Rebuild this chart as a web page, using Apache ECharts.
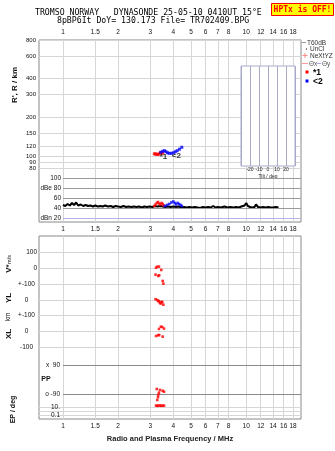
<!DOCTYPE html>
<html><head><meta charset="utf-8">
<script src="https://cdn.jsdelivr.net/npm/echarts@6/dist/echarts.min.js"></script>
<style>html,body{margin:0;padding:0;background:#fff}#c{width:335px;height:451px}</style>
</head><body><div id="c"></div>
<script>
// ---------------- data ----------------
const freqTicks = [1, 1.5, 2, 3, 4, 5, 6, 7, 8, 10, 12, 14, 16, 18];
const rangeTicks = [80, 90, 100, 120, 150, 200, 300, 400, 600, 800];
const dbTicks = [100, 80, 60, 40, 20];
const dbTickLabels = ['100', 'dBe 80', '60', '40', 'dBn 20'];
const tiltTicks = [-20, -10, 0, 10, 20];

// echo 1 (red, *1): virtual range (km) vs frequency (MHz)
const o1Freq  = [3.15, 3.2, 3.25, 3.3, 3.35, 3.4, 3.45, 3.5];
const o1Range = [104, 104, 103, 103, 104, 106, 106, 105];
// echo 2 (blue, <2)
const x2Freq  = [3.42, 3.5, 3.58, 3.65, 3.72, 3.8, 3.9, 4.0, 4.1, 4.2, 4.32, 4.45];
const x2Range = [107, 109, 110, 108, 106, 105, 105, 106, 108, 110, 113, 117];

// noise / amplitude panel (dB)
const noiseFreq = [1.00,1.03,1.06,1.09,1.12,1.15,1.18,1.21,1.25,1.29,1.33,1.37,1.41,1.46,1.5,1.55,1.6,1.65,1.7,1.76,1.82,1.88,1.94,2.0,2.07,2.14,2.21,2.28,2.36,2.44,2.52,2.6,2.69,2.78,2.87,2.97,3.07,3.17,3.28,3.39,3.5,3.62,3.74,3.87,4.0,4.14,4.28,4.43,4.58,4.74,4.9,5.07,5.24,5.42,5.6,5.8,6.0,6.2,6.4,6.6,6.8,7.0,7.3,7.6,7.9,8.2,8.5,8.8,9.1,9.4,9.6,9.8,10.0,10.2,10.5,10.8,11.1,11.3,11.6,12.0,12.4,12.8,13.2,13.6,14.0,14.5,15.0];
const noiseDb   = [46,44,48,45,50,46,51,45,47,44,46,44,45,43,45,43,44,43,45,43,44,42,44,43,42,44,42,43,42,43,42,43,41,43,42,43,42,44,43,44,43,42,43,42,43,42,43,41,42,41,42,41,42,41,40,42,41,42,41,44,41,42,41,43,41,42,41,42,41,43,47,45,50,44,42,41,42,47,42,41,42,41,42,41,41,42,41];
const o1AmpFreq = [3.15, 3.2, 3.25, 3.3, 3.35, 3.4, 3.45, 3.5, 3.55];
const o1AmpDb   = [44, 47, 50, 52, 49, 47, 50, 48, 45];
const x2AmpFreq = [3.6, 3.7, 3.8, 3.9, 4.0, 4.07, 4.14, 4.22, 4.3, 4.38, 4.45];
const x2AmpDb   = [44, 46, 48, 51, 53, 50, 47, 50, 48, 46, 44];

// lower panel: V* (m/s), YL (km), XL (km), PP (deg), EP (deg)
const vFreq  = [3.22, 3.27, 3.34, 3.44, 3.20, 3.35, 3.31, 3.50, 3.53];
const vStar  = [4, 11, 11, -10, -40, -44, -48, -80, -97];
const ylFreq = [3.20, 3.27, 3.34, 3.38, 3.46, 3.41, 3.53, 3.48, 3.31];
const ylVal  = [4, -1, -9, -18, -13, -24, -31, -15, -7];
const xlFreq = [3.34, 3.42, 3.48, 3.56, 3.22, 3.31, 3.35, 3.50];
const xlVal  = [15, 29, 27, 17, -30, -25, -24, -34];
const ppFreq = [3.25, 3.38, 3.50, 3.56, 3.34, 3.31, 3.30, 3.27];
const ppVal  = [-59, -65, -70, -76, -82, -96, -110, -127];
const epFreq = [3.22, 3.27, 3.32, 3.38, 3.44, 3.50, 3.56];
const epVal  = [22, 20, 21, 23, 20, 21, 22];

// ---------------- helpers ----------------
const L = Math.log10;
const FONT = '"Liberation Sans", Arial, sans-serif';
const MONO = '"DejaVu Sans Mono", monospace';
const X_MIN = L(0.74), X_MAX = L(19.9);
const Y0_MAX = L(800), Y0_MIN = Y0_MAX - 132 / 128.5;
const U_TOP = 606, U_BOT = -558;
const vU = v => 400 + v, ylU = v => 200 + v, xlU = v => v;
const ppU = p => -306.65 + p * 1.025;
const epU = e => -507.05 + 25.45 * L(e);

const fmtFreq = v => String(Math.round(Math.pow(10, v) * 10) / 10);
const pick = (pairs) => (v) => { for (const p of pairs) if (Math.abs(p[0] - v) < 0.5) return p[1]; return ''; };
const freqVals = freqTicks.map(L);
const GRID_C = '#d6d6d6';

function xAx(gi, pos, showLabel) {
  return {
    type: 'value', gridIndex: gi, position: pos, min: X_MIN, max: X_MAX,
    axisLine: { show: false },
    axisTick: { show: false, customValues: freqVals },
    axisLabel: { show: showLabel, customValues: freqVals, formatter: fmtFreq, hideOverlap: false,
      fontSize: 6.5, color: '#111', margin: 4, fontFamily: FONT },
    splitLine: { show: true, lineStyle: { color: GRID_C, width: 1 } }
  };
}
const hidden = (gi, extra) => Object.assign({ type: 'value', gridIndex: gi, show: false, min: 0, max: 1,
  splitLine: { show: false } }, extra || {});

const ppLabels = [[ppU(90), 'x  90'], [ppU(-90), 'o -90'], [epU(10), '10.'], [epU(0.1), '0.1']];
const yxLabels = [[300, '+-100'], [200, '0'], [100, '+-100'], [0, '0'], [-100, '-100']];
const vLabels = [[500, '100'], [400, '0']];
const bottomGridVals = [500, 400, 300, 200, 100, 0, -100, epU(10), epU(1), epU(0.1)];

const lbl = (extra) => Object.assign({ fontSize: 6.5, color: '#111', fontFamily: FONT, hideOverlap: false }, extra);

const hseg = (v, color) => [{ coord: [L(1), v], lineStyle: { color: color, width: 1, type: 'solid' } }, { coord: [X_MAX, v] }];

const bottomPts = []
  .concat(vFreq.map((f, i) => [L(f), vU(vStar[i])]))
  .concat(ylFreq.map((f, i) => [L(f), ylU(ylVal[i])]))
  .concat(xlFreq.map((f, i) => [L(f), xlU(xlVal[i])]))
  .concat(ppFreq.map((f, i) => [L(f), ppU(ppVal[i])]))
  .concat(epFreq.map((f, i) => [L(f), epU(epVal[i])]));

const o1Data = o1Freq.map((f, i) => {
  const d = { value: [L(f), L(o1Range[i])] };
  if (i === 6) d.label = { show: true, formatter: '*1', position: 'inside', offset: [2, 4],
    color: '#000', fontSize: 8, fontWeight: 'bold', fontFamily: FONT };
  return d;
});
const x2Data = x2Freq.map((f, i) => {
  const d = { value: [L(f), L(x2Range[i])] };
  if (i === 6) d.label = { show: true, formatter: '<2', position: 'inside', offset: [5, 2],
    color: '#000', fontSize: 8, fontWeight: 'bold', fontFamily: FONT };
  return d;
});

const leftY = (extra) => Object.assign({ type: 'value', gridIndex: 2, position: 'left', min: U_BOT, max: U_TOP,
  axisLine: { show: false }, splitLine: { show: false } }, extra);

const option = {
  animation: false,
  backgroundColor: '#fff',
  grid: [
    { left: 39, top: 40, width: 262, height: 132 },
    { left: 39, top: 172, width: 262, height: 50 },
    { left: 39, top: 236, width: 262, height: 183, show: true, borderColor: '#888', borderWidth: 1, backgroundColor: 'transparent' },
    { left: 39, top: 40, width: 262, height: 182, show: true, borderColor: '#888', borderWidth: 1, backgroundColor: 'transparent' },
    { left: 241, top: 66, width: 54, height: 100, show: true, borderColor: '#a8a8c8', borderWidth: 1, backgroundColor: '#fff', z: 3 }
  ],
  xAxis: [
    xAx(0, 'top', true),
    xAx(1, 'bottom', true),
    xAx(2, 'bottom', true),
    hidden(3),
    { type: 'value', gridIndex: 4, min: -30, max: 30, interval: 10, z: 4,
      axisLine: { show: false }, axisTick: { show: false },
      axisLabel: { showMinLabel: false, showMaxLabel: false, fontSize: 5, color: '#222', margin: 1.5, fontFamily: FONT },
      splitLine: { show: true, lineStyle: { color: '#a8a8c8', width: 1 } },
      name: 'Tilt / deg', nameLocation: 'middle', nameGap: 8,
      nameTextStyle: { fontSize: 5, color: '#222', fontFamily: FONT } }
  ],
  yAxis: [
    // 0 upper range (log km)
    { type: 'value', gridIndex: 0, position: 'left', min: Y0_MIN, max: Y0_MAX,
      axisLine: { show: false },
      axisTick: { show: false, customValues: rangeTicks.map(L) },
      axisLabel: lbl({ customValues: rangeTicks.map(L), formatter: v => String(Math.round(Math.pow(10, v))), margin: 3, fontSize: 6 }),
      splitLine: { show: true, lineStyle: { color: GRID_C, width: 1 } } },
    // 1 middle dB
    { type: 'value', gridIndex: 1, position: 'left', min: 12, max: 112, offset: -23,
      axisLine: { show: false },
      axisTick: { show: false, customValues: dbTicks },
      axisLabel: lbl({ customValues: dbTicks, formatter: pick(dbTicks.map((v, i) => [v, dbTickLabels[i]])), margin: 1 }),
      splitLine: { show: false } },
    // 2 frame dummy
    hidden(3),
    // 3 V* labels
    leftY({ axisTick: { show: false, customValues: vLabels.map(p => p[0]) },
      axisLabel: lbl({ customValues: vLabels.map(p => p[0]), formatter: pick(vLabels), margin: 2 }) }),
    // 4 YL / XL labels
    leftY({ axisTick: { show: false, customValues: yxLabels.map(p => p[0]) },
      axisLabel: lbl({ customValues: yxLabels.map(p => p[0]), formatter: pick(yxLabels), margin: 12.5, align: 'center' }) }),
    // 5 PP / EP labels
    leftY({ offset: -23, axisTick: { show: false, customValues: ppLabels.map(p => p[0]) },
      axisLabel: lbl({ customValues: ppLabels.map(p => p[0]), formatter: pick(ppLabels), margin: 2 }) }),
    // 6 bottom grid lines
    leftY({ axisTick: { show: false, customValues: bottomGridVals },
      axisLabel: { show: false, customValues: bottomGridVals },
      splitLine: { show: true, lineStyle: { color: GRID_C, width: 1 } } }),
    // 7 tilt
    { type: 'value', gridIndex: 4, min: 0, max: 1, show: false, splitLine: { show: false } }
  ],
  series: [
    { type: 'scatter', xAxisIndex: 0, yAxisIndex: 0, symbol: 'rect', symbolSize: 3,
      itemStyle: { color: '#ff0000' }, data: o1Data, z: 5 },
    { type: 'scatter', xAxisIndex: 0, yAxisIndex: 0, symbol: 'rect', symbolSize: 3,
      itemStyle: { color: '#0000ff' }, data: x2Data, z: 5 },
    { type: 'line', xAxisIndex: 1, yAxisIndex: 1, showSymbol: false, symbol: 'none',
      lineStyle: { color: '#000', width: 2 },
      data: noiseFreq.map((f, i) => [L(f), noiseDb[i]]),
      markLine: { silent: true, symbol: 'none', label: { show: false }, animation: false,
        data: dbTicks.map(v => hseg(v, v === 20 ? '#b4b4e6' : '#9a9a9a')) } },
    { type: 'scatter', xAxisIndex: 1, yAxisIndex: 1, symbol: 'rect', symbolSize: 2.6,
      itemStyle: { color: '#ff0000' }, data: o1AmpFreq.map((f, i) => [L(f), o1AmpDb[i]]), z: 5 },
    { type: 'scatter', xAxisIndex: 1, yAxisIndex: 1, symbol: 'rect', symbolSize: 2.6,
      itemStyle: { color: '#0000ff' }, data: x2AmpFreq.map((f, i) => [L(f), x2AmpDb[i]]), z: 5 },
    { type: 'scatter', xAxisIndex: 2, yAxisIndex: 6, symbol: 'rect', symbolSize: 2.6,
      itemStyle: { color: '#ff0000' }, data: bottomPts, z: 5,
      markLine: { silent: true, symbol: 'none', label: { show: false }, animation: false,
        data: [hseg(ppU(90), '#8a8a8a'), hseg(ppU(-90), '#8a8a8a')] } }
  ],
  graphic: [
    { type: 'text', x: 35, y: 12.5, style: { text: 'TROMSO NORWAY   DYNASONDE 25-05-10 0410UT 15°E',
      fontFamily: MONO, fontSize: 8.2, fill: '#000', verticalAlign: 'middle' } },
    { type: 'text', x: 57, y: 20.5, style: { text: '8pBP6It DoY= 130.173 File= TR702409.BPG',
      fontFamily: MONO, fontSize: 8.2, fill: '#000', verticalAlign: 'middle' } },
    { type: 'rect', shape: { x: 271.5, y: 3.5, width: 62, height: 12 }, style: { fill: '#ffff00', stroke: '#ff0000', lineWidth: 1 } },
    { type: 'text', x: 302.5, y: 10, style: { text: 'HPTx is OFF!', fontFamily: MONO, fontSize: 8, fontWeight: 'bold',
      fill: '#ff0000', align: 'center', verticalAlign: 'middle' } },
    // legend
    { type: 'line', shape: { x1: 302, y1: 42.5, x2: 306, y2: 42.5 }, style: { stroke: '#999', lineWidth: 1 } },
    { type: 'text', x: 307, y: 43, style: { text: 'T60dB', fontFamily: FONT, fontSize: 6.5, fill: '#333', verticalAlign: 'middle' } },
    { type: 'rect', shape: { x: 306, y: 48.5, width: 1, height: 1 }, style: { fill: '#000' } },
    { type: 'text', x: 310, y: 49.5, style: { text: 'UnCl', fontFamily: FONT, fontSize: 6.5, fill: '#333', verticalAlign: 'middle' } },
    { type: 'line', shape: { x1: 302.5, y1: 55.5, x2: 307.5, y2: 55.5 }, style: { stroke: '#ff8a8a', lineWidth: 1 } },
    { type: 'line', shape: { x1: 305, y1: 53, x2: 305, y2: 58 }, style: { stroke: '#ff8a8a', lineWidth: 1 } },
    { type: 'text', x: 310, y: 56, style: { text: 'NeXtYZ', fontFamily: FONT, fontSize: 6.5, fill: '#333', verticalAlign: 'middle' } },
    { type: 'line', shape: { x1: 302, y1: 63.5, x2: 308, y2: 63.5 }, style: { stroke: '#ff9a9a', lineWidth: 1 } },
    { type: 'text', x: 309, y: 64, style: { text: 'Θx', fontFamily: FONT, fontSize: 6.5, fill: '#555', verticalAlign: 'middle' } },
    { type: 'line', shape: { x1: 317, y1: 63.5, x2: 321, y2: 63.5 }, style: { stroke: '#a8a8e0', lineWidth: 1 } },
    { type: 'text', x: 322, y: 64, style: { text: 'Θy', fontFamily: FONT, fontSize: 6.5, fill: '#555', verticalAlign: 'middle' } },
    { type: 'rect', shape: { x: 305.5, y: 70.5, width: 3, height: 3 }, style: { fill: '#ff0000' } },
    { type: 'text', x: 313, y: 72.5, style: { text: '*1', fontFamily: FONT, fontSize: 8.5, fontWeight: 'bold', fill: '#000', verticalAlign: 'middle' } },
    { type: 'rect', shape: { x: 305.5, y: 79.5, width: 3, height: 3 }, style: { fill: '#0000ff' } },
    { type: 'text', x: 313, y: 81.5, style: { text: '<2', fontFamily: FONT, fontSize: 8.5, fontWeight: 'bold', fill: '#000', verticalAlign: 'middle' } },
    // axis names
    { type: 'text', x: 15, y: 85, rotation: Math.PI / 2, style: { text: "R', R / km", fontFamily: FONT, fontSize: 8, fontWeight: 'bold', fill: '#111', align: 'center', verticalAlign: 'middle' } },
    { type: 'text', x: 9, y: 268.5, rotation: Math.PI / 2, style: { text: 'V*', fontFamily: FONT, fontSize: 8, fontWeight: 'bold', fill: '#111', align: 'center', verticalAlign: 'middle' } },
    { type: 'text', x: 9, y: 259.5, rotation: Math.PI / 2, style: { text: 'm/s', fontFamily: FONT, fontSize: 5.5, fill: '#111', align: 'center', verticalAlign: 'middle' } },
    { type: 'text', x: 8.5, y: 298, rotation: Math.PI / 2, style: { text: 'YL', fontFamily: FONT, fontSize: 8, fontWeight: 'bold', fill: '#111', align: 'center', verticalAlign: 'middle' } },
    { type: 'text', x: 8.5, y: 317, rotation: Math.PI / 2, style: { text: 'km', fontFamily: FONT, fontSize: 6.5, fill: '#111', align: 'center', verticalAlign: 'middle' } },
    { type: 'text', x: 8.5, y: 334, rotation: Math.PI / 2, style: { text: 'XL', fontFamily: FONT, fontSize: 8, fontWeight: 'bold', fill: '#111', align: 'center', verticalAlign: 'middle' } },
    { type: 'text', x: 13, y: 409.5, rotation: Math.PI / 2, style: { text: 'EP / deg', fontFamily: FONT, fontSize: 7, fontWeight: 'bold', fill: '#111', align: 'center', verticalAlign: 'middle' } },
    { type: 'text', x: 46, y: 379, style: { text: 'PP', fontFamily: FONT, fontSize: 7, fontWeight: 'bold', fill: '#111', align: 'center', verticalAlign: 'middle' } },
    { type: 'text', x: 170, y: 438.5, style: { text: 'Radio and Plasma Frequency / MHz', fontFamily: FONT, fontSize: 7.5, fontWeight: 'bold', fill: '#222', align: 'center', verticalAlign: 'middle' } }
  ]
};
const chart = echarts.init(document.getElementById('c'), null, { renderer: 'canvas' });
chart.setOption(option);
</script></body></html>
